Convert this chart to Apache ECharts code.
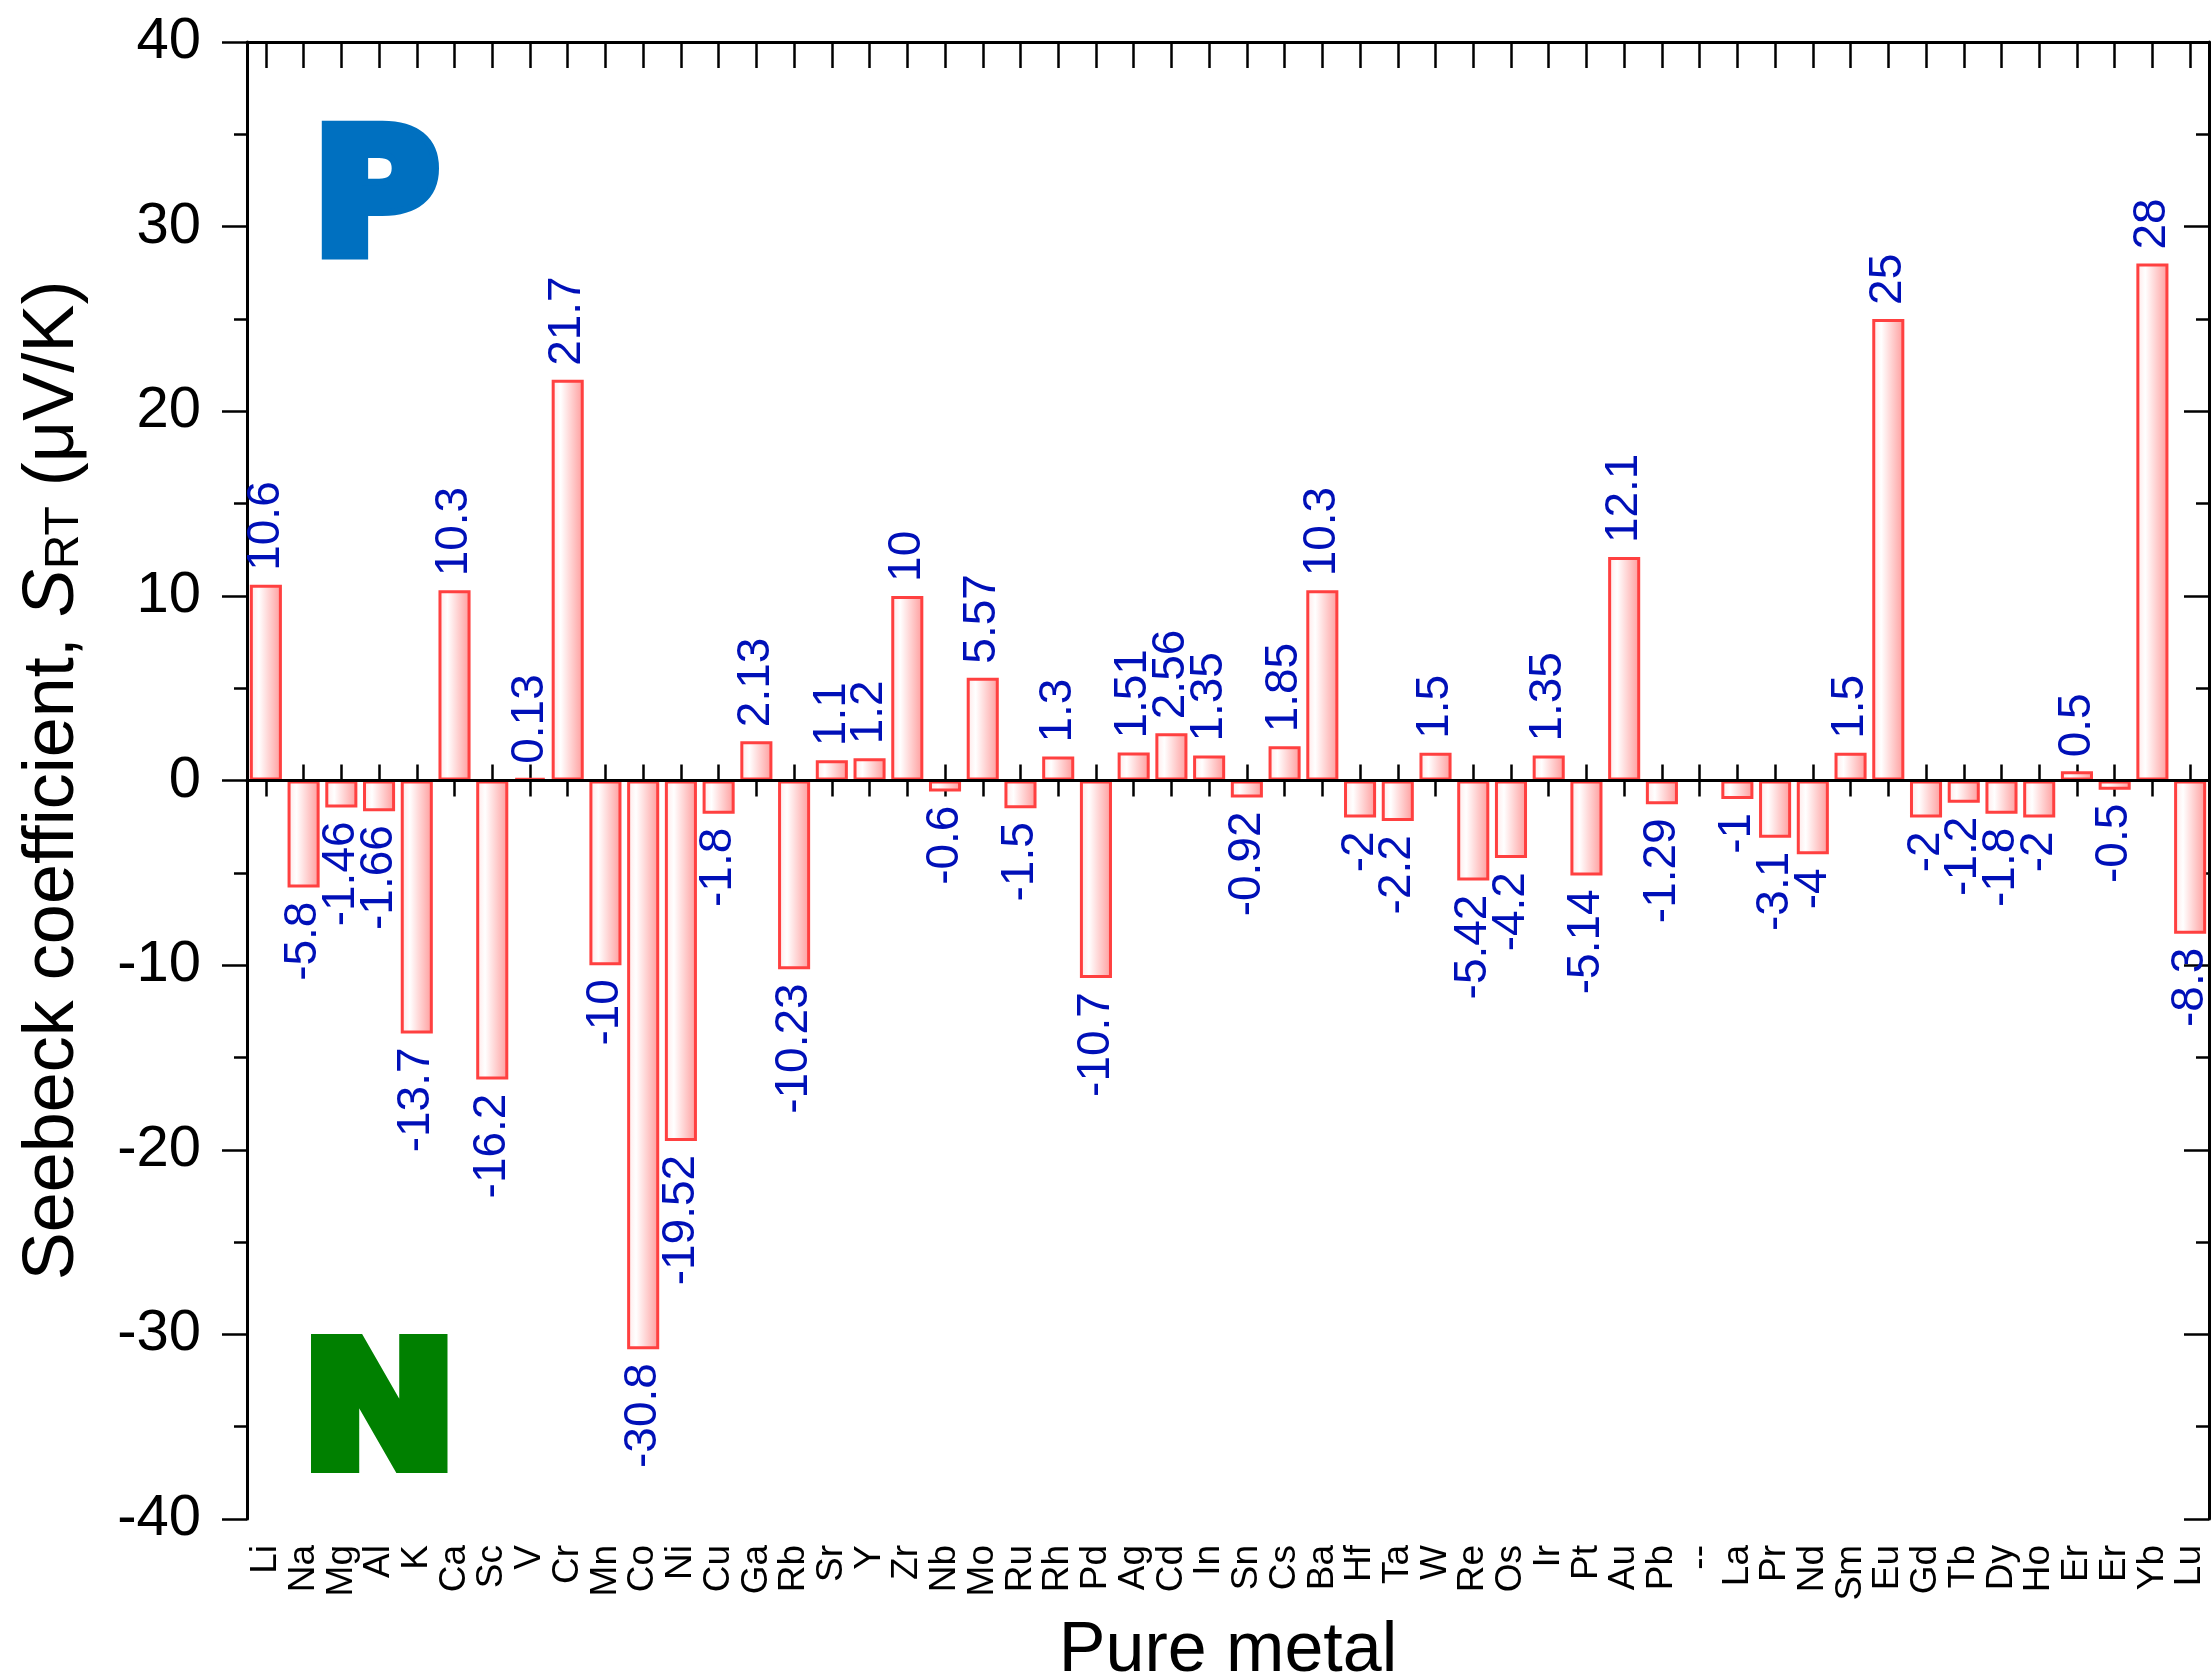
<!DOCTYPE html>
<html>
<head>
<meta charset="utf-8">
<script src="https://cdn.jsdelivr.net/npm/echarts@6/dist/echarts.min.js"></script>
<style>
html,body{margin:0;padding:0;background:#fff;}
#chart{width:2212px;height:1678px;}
</style>
</head>
<body>
<div id="chart"></div>
<script>
const categories = ['Li','Na','Mg','Al','K','Ca','Sc','V','Cr','Mn','Co','Ni','Cu','Ga','Rb','Sr','Y','Zr','Nb','Mo','Ru','Rh','Pd','Ag','Cd','In','Sn','Cs','Ba','Hf','Ta','W','Re','Os','Ir','Pt','Au','Pb','--','La','Pr','Nd','Sm','Eu','Gd','Tb','Dy','Ho','Er','Er','Yb','Lu'];
const seebeck = [10.6,-5.8,-1.46,-1.66,-13.7,10.3,-16.2,0.13,21.7,-10,-30.8,-19.52,-1.8,2.13,-10.23,1.1,1.2,10,-0.6,5.57,-1.5,1.3,-10.7,1.51,2.56,1.35,-0.92,1.85,10.3,-2,-2.2,1.5,-5.42,-4.2,1.35,-5.14,12.1,-1.29,null,-1,-3.1,-4,1.5,25,-2,-1.2,-1.8,-2,0.5,-0.5,28,-8.3];
const yTicks = {min:-40, max:40, interval:10};

const FONT = 'Liberation Sans, Arial, sans-serif';
const chart = echarts.init(document.getElementById('chart'), null, {renderer:'canvas'});

const barData = seebeck.map(v => {
  if (v === null) return {value: null};
  const pos = v >= 0;
  return {
    value: v,
    label: {
      position: pos ? 'top' : 'bottom',
      align: pos ? 'left' : 'right'
    }
  };
});

const fill = new echarts.graphic.LinearGradient(0,0,1,0,[
  {offset:0, color:'#ffe6e6'},
  {offset:0.28, color:'#ffffff'},
  {offset:1, color:'#ff9a9a'}
]);

const axisLine = {show:true, lineStyle:{color:'#000', width:3}};

chart.setOption({
  animation:false,
  backgroundColor:'#fff',
  grid:{left:247, right:3, top:42, bottom:159, containLabel:false, outerBoundsMode:'none'},
  xAxis:[
    {type:'category', data:categories, position:'bottom',
     axisLine:axisLine,
     axisTick:{show:true, alignWithLabel:true, inside:false, length:16, lineStyle:{color:'#000', width:2.5}},
     axisLabel:{show:true, rotate:90, interval:0, margin:26, color:'#000', fontSize:37, fontFamily:FONT},
     name:'Pure metal', nameLocation:'middle', nameGap:98,
     nameTextStyle:{color:'#000', fontSize:70, fontFamily:FONT}
    },
    {type:'category', data:categories, position:'bottom',
     axisLine:axisLine,
     axisTick:{show:true, alignWithLabel:true, inside:true, length:16, lineStyle:{color:'#000', width:2.5}},
     axisLabel:{show:false}
    },
    {type:'category', data:categories, position:'top',
     axisLine:axisLine,
     axisTick:{show:true, alignWithLabel:true, inside:true, length:26, lineStyle:{color:'#000', width:2.5}},
     axisLabel:{show:false}
    }
  ],
  yAxis:[
    {type:'value', min:yTicks.min, max:yTicks.max, interval:yTicks.interval, position:'left',
     axisLine:axisLine,
     axisTick:{show:true, inside:false, length:25, lineStyle:{color:'#000', width:2.5}},
     minorTick:{show:true, splitNumber:2, length:13, lineStyle:{color:'#000', width:2.5}},
     splitLine:{show:false},
     axisLabel:{color:'#000', fontSize:58, margin:46, fontFamily:FONT},
     name:'{a|Seebeck coefficient, }{s|S}{sub|RT}{a| (\u03bcV/K)}',
     nameLocation:'middle', nameGap:158,
     nameTextStyle:{color:'#000', fontSize:72, fontFamily:FONT,
       rich:{
         a:{fontSize:72, lineHeight:72, fontFamily:FONT, color:'#000'},
         s:{fontSize:72, lineHeight:72, fontStyle:'italic', fontFamily:FONT, color:'#000'},
         sub:{fontSize:48, lineHeight:30, verticalAlign:'bottom', fontFamily:FONT, color:'#000'}
       }}
    },
    {type:'value', min:yTicks.min, max:yTicks.max, interval:yTicks.interval, position:'right',
     axisLine:axisLine,
     axisTick:{show:true, inside:true, length:25, lineStyle:{color:'#000', width:2.5}},
     minorTick:{show:true, splitNumber:2, length:13, lineStyle:{color:'#000', width:2.5}},
     splitLine:{show:false},
     axisLabel:{show:false}
    }
  ],
  graphic:[
    {type:'text', left:306, top:114, z:10,
     style:{text:'P', font:'bold 172px "DejaVu Sans"', fill:'#0070c0', stroke:'#0070c0', lineWidth:14}},
    {type:'text', left:294, top:1328, z:10, scaleX:1.08,
     style:{text:'N', font:'bold 172px "DejaVu Sans"', fill:'#008000', stroke:'#008000', lineWidth:14}}
  ],
  series:[{
    type:'bar',
    xAxisIndex:0, yAxisIndex:0,
    data:barData,
    barCategoryGap:'15%',
    itemStyle:{color:fill, borderColor:'#ff4040', borderWidth:3},
    label:{show:true, rotate:90, verticalAlign:'middle', distance:14,
      color:'#0010b8', fontSize:46, fontFamily:FONT, formatter:'{c}'},
    markLine:{silent:true, symbol:'none', label:{show:false},
      lineStyle:{color:'#000', width:3, type:'solid'},
      data:[{yAxis:0}]}
  }]
});
</script>
</body>
</html>
